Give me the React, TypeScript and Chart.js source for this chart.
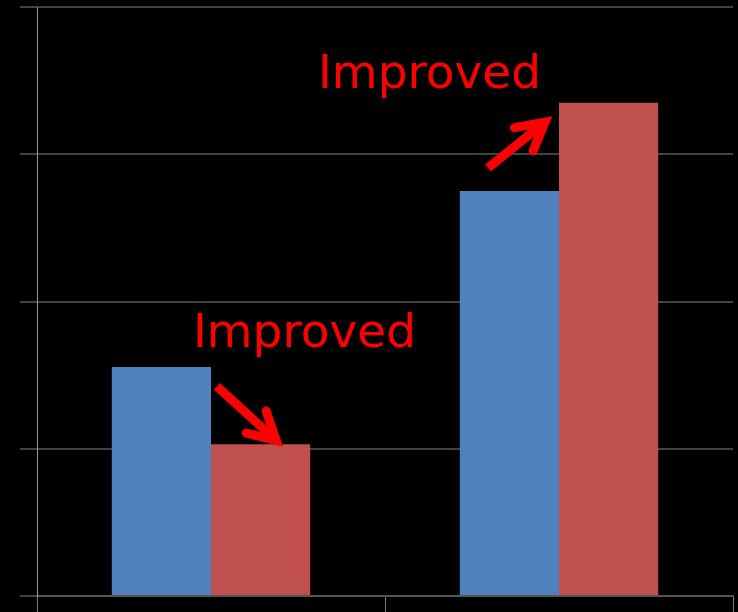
import React, { useEffect, useRef } from "react";
import { Chart, registerables } from "chart.js";

Chart.register(...registerables);

const categories = ["A", "B"];
const beforeValues = [1.555, 2.75];
const afterValues = [1.03, 3.35];
const yTicks = [0, 1, 2, 3, 4];

// annotation anchors in data units (x: category index, y: value)
const labelText = ["Improved", "Improved"];
const labelX = [-0.052, 0.3075];
const labelY = [1.691, 3.45];
const arrowFromX = [0.017, 0.796];
const arrowFromY = [1.424, 2.907];
const arrowToX = [0.198, 0.971];
const arrowToY = [1.034, 3.239];

const annotationPlugin = {
  id: "annotations",
  beforeDraw(chart: any) {
    const ctx = chart.ctx;
    ctx.save();
    ctx.fillStyle = "#000000";
    ctx.fillRect(0, 0, chart.width, chart.height);
    ctx.restore();
  },
  afterDatasetsDraw(chart: any) {
    const ctx = chart.ctx;
    const xs = chart.scales.x;
    const ys = chart.scales.y;
    ctx.save();
    ctx.fillStyle = "#ff0000";
    ctx.strokeStyle = "#ff0000";
    ctx.font = '47px "DejaVu Sans"';
    ctx.textBaseline = "alphabetic";
    ctx.textAlign = "left";
    for (let i = 0; i < labelText.length; i++) {
      ctx.fillText(labelText[i], xs.getPixelForValue(labelX[i]), ys.getPixelForValue(labelY[i]));
    }
    for (let i = 0; i < arrowFromX.length; i++) {
      const x1 = xs.getPixelForValue(arrowFromX[i]);
      const y1 = ys.getPixelForValue(arrowFromY[i]);
      const x2 = xs.getPixelForValue(arrowToX[i]);
      const y2 = ys.getPixelForValue(arrowToY[i]);
      const ang = Math.atan2(y2 - y1, x2 - x1);
      const back = ang + Math.PI;
      const wing = 31;
      const spread = 0.5;
      ctx.lineWidth = 9;
      ctx.lineCap = "butt";
      ctx.beginPath();
      ctx.moveTo(x1, y1);
      ctx.lineTo(x2 - Math.cos(ang) * 6, y2 - Math.sin(ang) * 6);
      ctx.stroke();
      ctx.lineCap = "round";
      ctx.lineJoin = "miter";
      ctx.beginPath();
      const tx = x2 - Math.cos(ang) * 5;
      const ty = y2 - Math.sin(ang) * 5;
      ctx.moveTo(tx + Math.cos(back + spread) * wing, ty + Math.sin(back + spread) * wing);
      ctx.lineTo(tx, ty);
      ctx.lineTo(tx + Math.cos(back - spread) * wing, ty + Math.sin(back - spread) * wing);
      ctx.stroke();
    }
    ctx.restore();
  },
};

export default function App() {
  const ref = useRef<HTMLCanvasElement | null>(null);
  useEffect(() => {
    document.body.style.margin = "0";
    document.body.style.background = "#000";
    if (!ref.current) return;
    const chart = new Chart(ref.current, {
      type: "bar",
      data: {
        labels: categories,
        datasets: [
          {
            data: beforeValues,
            backgroundColor: "#4F81BD",
            borderWidth: 0,
            categoryPercentage: 0.57,
            barPercentage: 1.0,
          },
          {
            data: afterValues,
            backgroundColor: "#C0504D",
            borderWidth: 0,
            categoryPercentage: 0.57,
            barPercentage: 1.0,
          },
        ],
      },
      options: {
        responsive: false,
        animation: false,
        devicePixelRatio: 1,
        layout: { padding: { top: 7, right: 5, left: 0, bottom: 0 } },
        plugins: { legend: { display: false }, tooltip: { enabled: false } },
        scales: {
          x: {
            offset: true,
            grid: {
              offset: true,
              drawOnChartArea: false,
              drawTicks: true,
              tickLength: 16,
              color: "#7a7a7a",
              lineWidth: 1,
            },
            border: { display: true, color: "#555555", width: 2 },
            ticks: { display: false },
            afterFit: (s: any) => {
              s.height = 16;
            },
          },
          y: {
            min: yTicks[0],
            max: yTicks[yTicks.length - 1],
            ticks: { display: false, stepSize: 1 },
            grid: { color: "#424242", lineWidth: 2, tickLength: 17, drawTicks: true },
            border: { display: true, color: "#9a9a9a", width: 1 },
            afterFit: (s: any) => {
              s.width = 37;
            },
          },
        },
      },
      plugins: [annotationPlugin],
    } as any);
    return () => chart.destroy();
  }, []);
  return (
    <div style={{ position: "fixed", left: 0, top: 0, width: 738, height: 612, background: "#000" }}>
      <canvas ref={ref} width={738} height={612} style={{ display: "block" }} />
    </div>
  );
}
